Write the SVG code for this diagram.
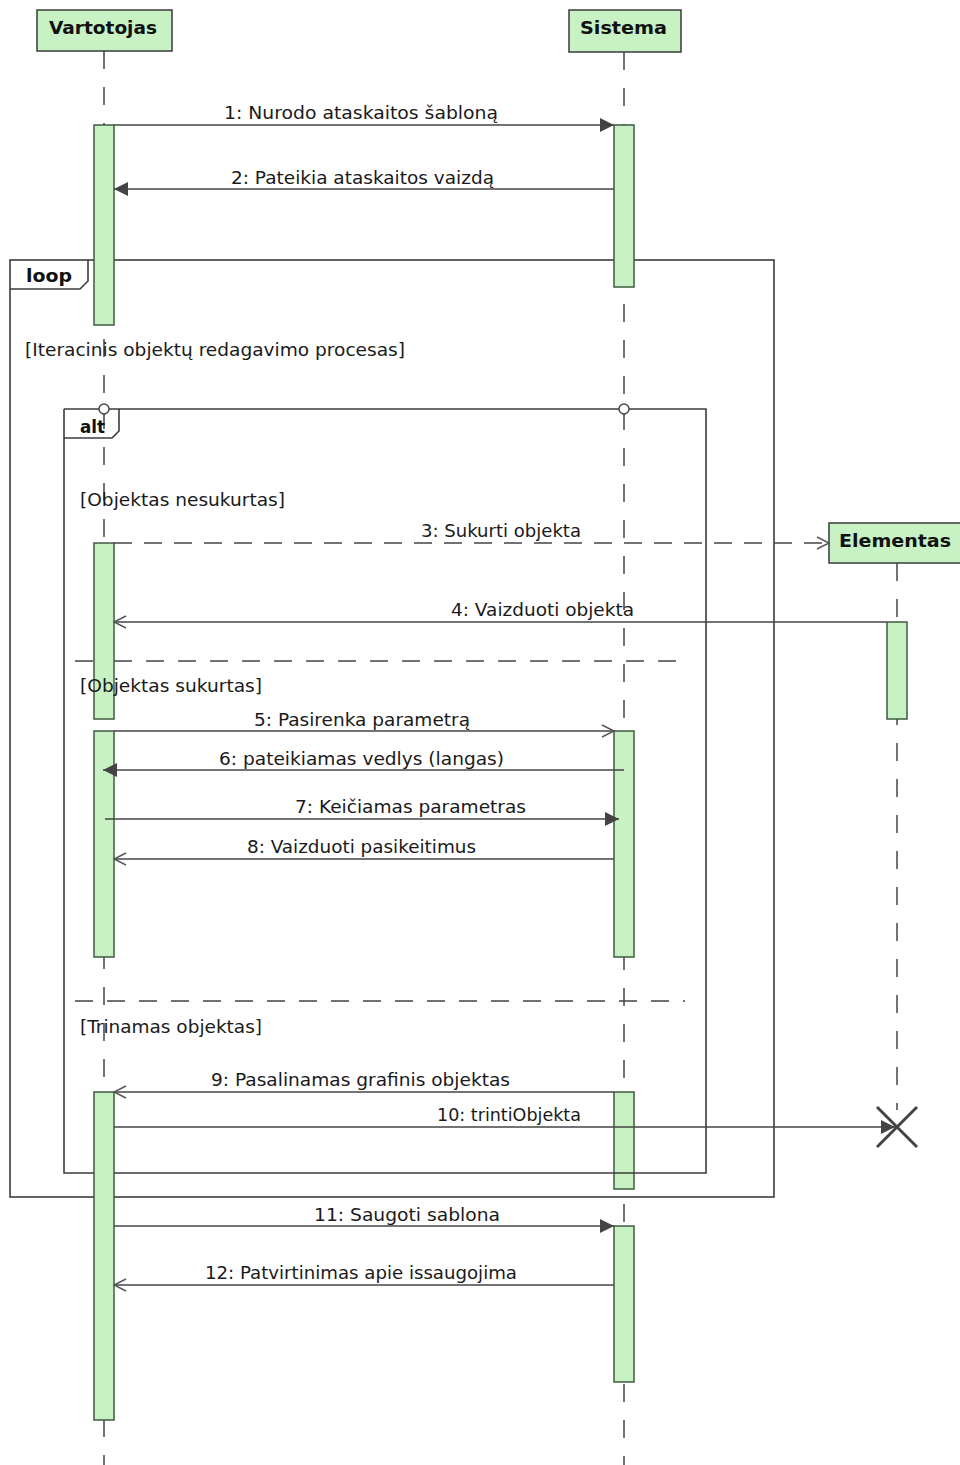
<svg xmlns="http://www.w3.org/2000/svg" width="960" height="1465" viewBox="0 0 960 1465">
  <style>
    .bg { fill: #ffffff; }
    .head { fill: #c8f1c4; stroke: #3a3a3a; stroke-width: 1.5; }
    .headtxt { font-family: "DejaVu Sans", "Liberation Sans", sans-serif; font-weight: bold; font-size: 17px; fill: #111; }
    .life { stroke: #444; stroke-width: 1.5; stroke-dasharray: 18 18; fill: none; }
    .act { fill: #c8f1c4; stroke: #3f5a3f; stroke-width: 1.5; }
    .frame { fill: none; stroke: #3c3c3c; stroke-width: 1.6; }
    .sep { fill: none; stroke: #444; stroke-width: 1.4; stroke-dasharray: 18 14; }
    .tabtxt { font-family: "DejaVu Sans", "Liberation Sans", sans-serif; font-weight: bold; font-size: 17px; fill: #111; }
    .txt { font-family: "DejaVu Sans", "Liberation Sans", sans-serif; font-size: 17px; fill: #1a1a1a; }
    .msg { fill: none; stroke: #444; stroke-width: 1.5; }
    .sync { marker-end: url(#filled); }
    .reply { marker-end: url(#open); }
    .create { stroke-dasharray: 18 12; marker-end: url(#open); }
    .gate { fill: #fff; stroke: #444; stroke-width: 1.4; }
    .kill { stroke: #444; stroke-width: 3; }
  </style>
  <defs>
    <marker id="filled" markerUnits="userSpaceOnUse" markerWidth="15" markerHeight="15" refX="14" refY="7" orient="auto">
      <path d="M0,0 L14,7 L0,14 Z" fill="#444"/>
    </marker>
    <marker id="open" markerUnits="userSpaceOnUse" markerWidth="16" markerHeight="16" refX="13" refY="7" orient="auto">
      <path d="M1,1 L13,7 L1,13" fill="none" stroke="#555" stroke-width="1.4"/>
    </marker>
  </defs>

  <rect class="bg" x="0" y="0" width="960" height="1465"/>

  <!-- outer loop fragment -->
  <g id="loop">
    <rect class="frame" x="10" y="260" width="764" height="937"/>
    <path class="frame" d="M10,289 H80 L88,281 V260"/>
    <text class="tabtxt" x="26" y="282" textLength="46" lengthAdjust="spacingAndGlyphs">loop</text>
  </g>

  <!-- lifelines with activations -->
  <g id="Vartotojas">
    <line class="life" x1="104" y1="51" x2="104" y2="1465"/>
    <rect class="head" x="37" y="10" width="135" height="41"/>
    <text class="headtxt" x="49" y="34" textLength="108" lengthAdjust="spacingAndGlyphs">Vartotojas</text>
    <rect class="act" x="94" y="125" width="20" height="200"/>
    <rect class="act" x="94" y="543" width="20" height="176"/>
    <rect class="act" x="94" y="731" width="20" height="226"/>
    <rect class="act" x="94" y="1092" width="20" height="328"/>
  </g>
  <g id="Sistema">
    <line class="life" x1="624" y1="52" x2="624" y2="1465"/>
    <rect class="head" x="569" y="10" width="112" height="42"/>
    <text class="headtxt" x="580" y="34" textLength="87" lengthAdjust="spacingAndGlyphs">Sistema</text>
    <rect class="act" x="614" y="125" width="20" height="162"/>
    <rect class="act" x="614" y="731" width="20" height="226"/>
    <rect class="act" x="614" y="1092" width="20" height="97"/>
    <rect class="act" x="614" y="1226" width="20" height="156"/>
  </g>
  <g id="Elementas">
    <line class="life" x1="897" y1="563" x2="897" y2="1110"/>
    <rect class="head" x="829" y="523" width="136" height="40"/>
    <text class="headtxt" x="839" y="547" textLength="112" lengthAdjust="spacingAndGlyphs">Elementas</text>
    <rect class="act" x="887" y="622" width="20" height="97"/>
    <line class="kill" x1="877" y1="1107" x2="917" y2="1147"/>
    <line class="kill" x1="917" y1="1107" x2="877" y2="1147"/>
  </g>

  <text class="txt" x="25" y="356" textLength="380" lengthAdjust="spacingAndGlyphs">[Iteracinis objektų redagavimo procesas]</text>

  <!-- inner alt fragment with its operands -->
  <g id="alt">
    <path class="frame" d="M64,409 H706 V1173 H114 M94,1173 H64 V409"/>
    <path class="frame" d="M64,438 H112 L119,431 V409"/>
    <text class="tabtxt" x="80" y="433" textLength="25" lengthAdjust="spacingAndGlyphs">alt</text>
    <circle class="gate" cx="104" cy="409" r="5"/>
    <circle class="gate" cx="624" cy="409" r="5"/>
    <text class="txt" x="80" y="506" textLength="205" lengthAdjust="spacingAndGlyphs">[Objektas nesukurtas]</text>
    <path class="sep" d="M75,661 H94 M114,661 H685"/>
    <text class="txt" x="80" y="692" textLength="182" lengthAdjust="spacingAndGlyphs">[Objektas sukurtas]</text>
    <line class="sep" x1="75" y1="1001" x2="685" y2="1001"/>
    <text class="txt" x="80" y="1033" textLength="182" lengthAdjust="spacingAndGlyphs">[Trinamas objektas]</text>
  </g>

  <!-- messages -->
  <g id="connectors">
    <line class="msg sync" x1="114" y1="125" x2="614" y2="125"/>
    <text class="txt" x="224" y="119" textLength="274" lengthAdjust="spacingAndGlyphs">1: Nurodo ataskaitos šabloną</text>

    <line class="msg sync" x1="614" y1="189" x2="114" y2="189"/>
    <text class="txt" x="231" y="184" textLength="263" lengthAdjust="spacingAndGlyphs">2: Pateikia ataskaitos vaizdą</text>

    <line class="msg create" x1="114" y1="543" x2="829" y2="543"/>
    <text class="txt" x="421" y="537" textLength="160" lengthAdjust="spacingAndGlyphs">3: Sukurti objekta</text>

    <line class="msg reply" x1="887" y1="622" x2="114" y2="622"/>
    <text class="txt" x="451" y="616" textLength="183" lengthAdjust="spacingAndGlyphs">4: Vaizduoti objekta</text>

    <line class="msg reply" x1="114" y1="731" x2="614" y2="731"/>
    <text class="txt" x="254" y="726" textLength="216" lengthAdjust="spacingAndGlyphs">5: Pasirenka parametrą</text>

    <line class="msg sync" x1="624" y1="770" x2="103" y2="770"/>
    <text class="txt" x="219" y="765" textLength="285" lengthAdjust="spacingAndGlyphs">6: pateikiamas vedlys (langas)</text>

    <line class="msg sync" x1="105" y1="819" x2="619" y2="819"/>
    <text class="txt" x="295" y="813" textLength="231" lengthAdjust="spacingAndGlyphs">7: Keičiamas parametras</text>

    <line class="msg reply" x1="614" y1="859" x2="114" y2="859"/>
    <text class="txt" x="247" y="853" textLength="229" lengthAdjust="spacingAndGlyphs">8: Vaizduoti pasikeitimus</text>

    <line class="msg reply" x1="614" y1="1092" x2="114" y2="1092"/>
    <text class="txt" x="211" y="1086" textLength="299" lengthAdjust="spacingAndGlyphs">9: Pasalinamas grafinis objektas</text>

    <line class="msg sync" x1="114" y1="1127" x2="895" y2="1127"/>
    <text class="txt" x="437" y="1121" textLength="144" lengthAdjust="spacingAndGlyphs">10: trintiObjekta</text>

    <line class="msg sync" x1="114" y1="1226" x2="614" y2="1226"/>
    <text class="txt" x="314" y="1221" textLength="186" lengthAdjust="spacingAndGlyphs">11: Saugoti sablona</text>

    <line class="msg reply" x1="614" y1="1285" x2="114" y2="1285"/>
    <text class="txt" x="205" y="1279" textLength="312" lengthAdjust="spacingAndGlyphs">12: Patvirtinimas apie issaugojima</text>
  </g>
</svg>
